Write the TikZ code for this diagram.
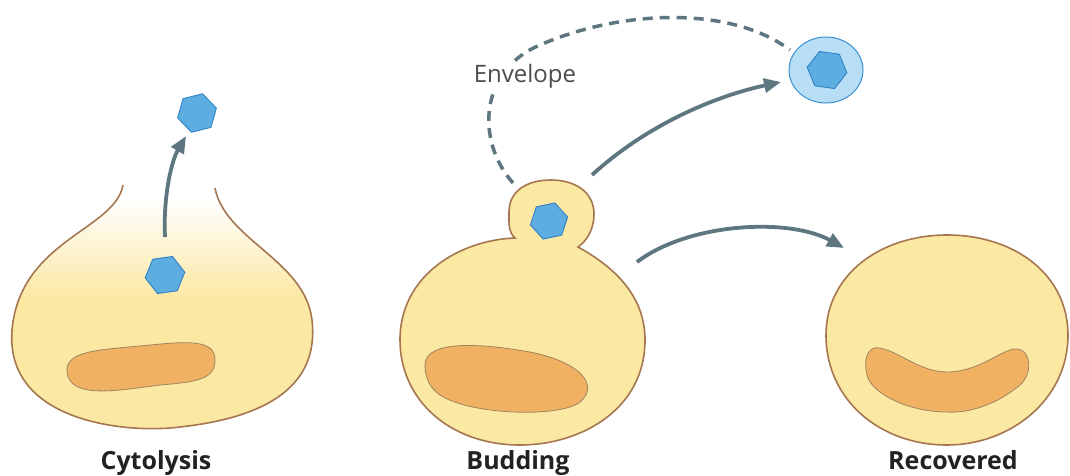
\documentclass[tikz,border=0pt]{standalone}
\usepackage{fontspec}
\setmainfont{Open Sans}
\usetikzlibrary{arrows.meta,shapes.geometric}
\definecolor{cellfill}{HTML}{FBE8A2}
\definecolor{cellline}{HTML}{A57650}
\definecolor{nucfill}{HTML}{F0B262}
\definecolor{nucline}{HTML}{A08462}
\definecolor{virfill}{HTML}{5EADE0}
\definecolor{virline}{HTML}{2F82C6}
\definecolor{envfill}{HTML}{B7DEF5}
\definecolor{envline}{HTML}{3A90D0}
\definecolor{arrowgrey}{HTML}{5E7680}
\definecolor{labeltext}{HTML}{222222}
% yellow cytoplasm fading to white towards the ruptured top
\pgfdeclareverticalshading{lysis}{100bp}{color(0bp)=(cellfill); color(52bp)=(cellfill);
  color(72bp)=(white); color(100bp)=(white)}
\tikzset{
  cell/.style={draw=cellline, line width=1.6pt, fill=cellfill},
  nucleus/.style={draw=nucline, line width=0.8pt, fill=nucfill},
  virion/.style={regular polygon, regular polygon sides=6, fill=virfill,
    draw=virline, line width=0.9pt, minimum size=40pt, inner sep=0pt},
  flow/.style={draw=arrowgrey, line width=3.8pt,
    -{Triangle[length=17pt,width=14pt]}},
  envpath/.style={draw=arrowgrey, line width=3.5pt, dash pattern=on 10pt off 7pt},
  caption/.style={font=\fontsize{25}{27}\selectfont\bfseries, text=labeltext, anchor=base}
}
\begin{document}
\begin{tikzpicture}[x=1pt,y=-1pt]
\useasboundingbox (0,0) rectangle (1070,475);

% ---- cytolysis: ruptured cell ----
\draw[draw=cellline, line width=1.6pt, shading=lysis]
  (123,185) .. controls (115,230) and (20,240) .. (12,330)
  .. controls (5,420) and (120,432) .. (170,428)
  .. controls (260,420) and (320,390) .. (312,320)
  .. controls (305,260) and (225,240) .. (215,188);
\draw[nucleus] (67,372) .. controls (65,350) and (100,350) .. (150,345)
  .. controls (190,341) and (215,340) .. (215,360)
  .. controls (215,380) and (195,382) .. (160,385)
  .. controls (120,390) and (70,400) .. cycle;
\node[virion, rotate=8] (vc1) at (165,275) {};
\node[virion, rotate=14] (vc2) at (197,113) {};
\coordinate (cs) at (165,237);
\coordinate (ce) at (186,136);
\draw[flow] (cs) .. controls (163,195) and (172,160) .. (ce);

% ---- budding cell ----
\draw[cell] (515,238) .. controls (508,232) and (509,222) .. (509,212)
  .. controls (509,190) and (528,180) .. (551,180)
  .. controls (575,180) and (594,192) .. (594,214)
  .. controls (594,228) and (588,240) .. (578,247)
  .. controls (620,270) and (645,300) .. (645,340)
  .. controls (645,410) and (580,445) .. (520,445)
  .. controls (450,445) and (400,400) .. (400,340)
  .. controls (400,275) and (460,240) .. cycle;
\draw[nucleus] (425,365) .. controls (425,340) and (480,343) .. (530,352)
  .. controls (580,362) and (600,385) .. (580,402)
  .. controls (560,418) and (470,415) .. (440,395)
  .. controls (430,388) and (425,378) .. cycle;
\node[virion, minimum size=38pt, rotate=12] (vb) at (549,221) {};

% ---- released enveloped virion ----
\node[ellipse, draw=envline, line width=1pt, fill=envfill,
      minimum width=74pt, minimum height=66pt, inner sep=0pt] (env) at (826,70) {};
\node[virion, rotate=-8] (venv) at (827,70) {};

% envelope route from the bud
\coordinate (bs) at (513,183);
\coordinate (be) at (790,50);
\draw[envpath] (bs) .. controls (475,140) and (480,70) .. (540,45)
  .. controls (620,10) and (730,5) .. (be);
\node[fill=white, inner sep=2pt, font=\fontsize{24}{26}\selectfont, text=black!70]
  (envlabel) at (525,76) {Envelope};

% release and recovery arrows
\coordinate (r1s) at (592,175);
\coordinate (r1e) at (781,82);
\draw[flow] (r1s) .. controls (650,122) and (720,95) .. (r1e);
\coordinate (r2s) at (637,262);
\coordinate (r2e) at (844,248);
\draw[flow] (r2s) .. controls (690,222) and (790,218) .. (r2e);

% ---- recovered cell ----
\draw[cell] (826,335) .. controls (826,275) and (880,235) .. (947,235)
  .. controls (1015,235) and (1068,275) .. (1068,335)
  .. controls (1068,400) and (1010,445) .. (947,445)
  .. controls (880,445) and (826,400) .. cycle;
\draw[nucleus] (880,348) .. controls (900,352) and (920,372) .. (947,372)
  .. controls (975,372) and (995,355) .. (1010,350)
  .. controls (1030,343) and (1035,372) .. (1020,385)
  .. controls (990,410) and (960,413) .. (947,412)
  .. controls (910,412) and (875,395) .. (868,378)
  .. controls (862,360) and (868,345) .. cycle;

% ---- captions ----
\node[caption] (lc) at (156,469) {Cytolysis};
\node[caption] (lb) at (518,469) {Budding};
\node[caption] (lr) at (953,469) {Recovered};
\end{tikzpicture}
\end{document}
